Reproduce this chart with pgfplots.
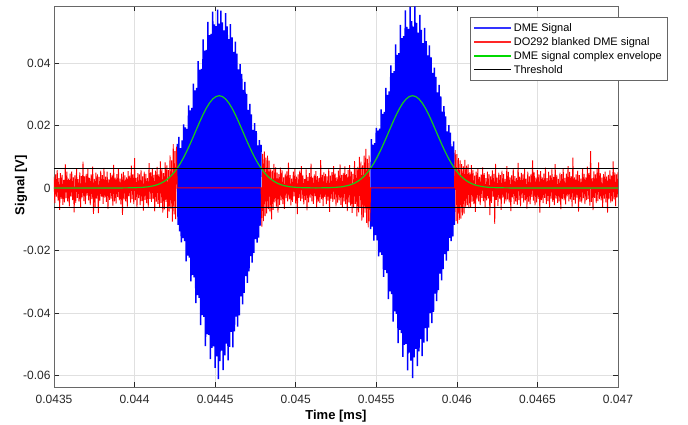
\documentclass[border=0pt]{standalone}
\usepackage{pgfplots}
\pgfplotsset{compat=1.18}
\usepackage{fontspec}
\setmainfont{Liberation Sans}
\definecolor{axgray}{rgb}{0.15,0.15,0.15}
\definecolor{mygreen}{RGB}{26,204,26}
\begin{document}
\begin{tikzpicture}
\begin{axis}[
  at={(0pt,0pt)}, anchor=south west,
  scale only axis, width=564pt, height=381pt,
  xmin=43.5, xmax=47, ymin=-63.7, ymax=58.2,
  xtick={43.5,44,44.5,45,45.5,46,46.5,47},
  xticklabels={0.0435,0.044,0.0445,0.045,0.0455,0.046,0.0465,0.047},
  ytick={-60,-40,-20,0,20,40},
  yticklabels={-0.06,-0.04,-0.02,0,0.02,0.04},
  /pgf/number format/assume math mode=true,
  grid=major, major grid style={black!12, line width=0.5pt},
  tick align=inside, tick pos=both, major tick length=5pt,
  every tick/.style={axgray, line width=0.5pt},
  axis line style={axgray!70, line width=0.6pt},
  tick label style={font=\fontsize{12}{14}\selectfont, text=axgray},
  xticklabel style={yshift=-5pt},
  xlabel={\textbf{Time [ms]}}, ylabel={\textbf{Signal [V]}},
  label style={font=\fontsize{13}{15}\selectfont, text=black},
  xlabel style={at={(axis description cs:0.5,-0.076)}, anchor=center},
  ylabel style={at={(axis description cs:-0.0585,0.53)}, anchor=center},
  legend cell align=left,
  legend style={at={(axis description cs:1.0869,0.971)}, anchor=north east,
    fill=white, font=\fontsize{11}{12}\selectfont,
    row sep=0.5pt, inner xsep=3pt, inner ysep=4pt},
  every axis legend/.append style={draw=black!60},
  legend image code/.code={\draw[#1] (0pt,0pt) -- (37pt,0pt);},
]
% DME signal (pulse 1)
\addplot[blue, line width=1.5pt, forget plot] coordinates {
(44.265,14.1)(44.270,-11.8)(44.275,16.3)(44.280,-13.9)(44.285,12.7)(44.290,-17.4)(44.295,15.2)(44.300,-16.1)(44.305,20.3)(44.310,-17.0)
(44.315,19.4)(44.320,-23.5)(44.325,18.9)(44.330,-21.7)(44.335,26.4)(44.340,-22.3)(44.345,24.8)(44.350,-29.9)(44.355,25.6)(44.360,-27.8)
(44.365,33.4)(44.370,-28.6)(44.375,31.2)(44.380,-36.9)(44.385,32.0)(44.390,-34.3)(44.395,40.6)(44.400,-35.2)(44.405,37.8)(44.410,-43.9)
(44.415,38.1)(44.420,-40.7)(44.425,47.5)(44.430,-41.3)(44.435,43.9)(44.440,-50.6)(44.445,44.2)(44.450,-46.8)(44.455,53.1)(44.460,-47.0)
(44.465,48.9)(44.470,-54.8)(44.475,49.3)(44.480,-51.2)(44.485,56.4)(44.490,-50.7)(44.495,52.3)(44.500,-57.6)(44.505,51.8)(44.510,-53.9)
(44.515,57.0)(44.520,-61.2)(44.525,52.6)(44.530,-55.4)(44.535,56.7)(44.540,-52.1)(44.545,53.0)(44.550,-58.3)(44.555,50.4)(44.560,-53.6)
(44.565,55.9)(44.570,-49.8)(44.575,51.7)(44.580,-55.2)(44.585,47.6)(44.590,-50.9)(44.595,52.4)(44.600,-46.1)(44.605,48.2)(44.610,-51.0)
(44.615,43.5)(44.620,-45.9)(44.625,46.8)(44.630,-41.2)(44.635,43.0)(44.640,-44.4)(44.645,37.9)(44.650,-40.8)(44.655,39.6)(44.660,-34.7)
(44.665,36.5)(44.670,-37.3)(44.675,31.4)(44.680,-33.6)(44.685,33.9)(44.690,-28.2)(44.695,30.1)(44.700,-30.4)(44.705,25.0)(44.710,-26.7)
(44.715,26.9)(44.720,-21.8)(44.725,23.5)(44.730,-23.9)(44.735,18.6)(44.740,-20.8)(44.745,20.7)(44.750,-16.4)(44.755,18.2)(44.760,-17.5)
(44.765,13.6)(44.770,-15.9)(44.775,15.3)(44.780,-12.1)(44.785,13.8)
};
% DME signal (pulse 2)
\addplot[blue, line width=1.5pt, forget plot] coordinates {
(45.465,-13.2)(45.470,15.6)(45.475,-12.4)(45.480,13.8)(45.485,-16.9)(45.490,14.3)(45.495,-15.1)(45.500,19.2)(45.505,-16.8)(45.510,18.3)
(45.515,-21.9)(45.520,19.0)(45.525,-20.6)(45.530,25.1)(45.535,-21.4)(45.540,23.7)(45.545,-28.5)(45.550,24.3)(45.555,-26.2)(45.560,32.0)
(45.565,-27.3)(45.570,29.8)(45.575,-35.6)(45.580,30.9)(45.585,-33.1)(45.590,39.2)(45.595,-34.0)(45.600,36.7)(45.605,-42.8)(45.610,37.4)
(45.615,-39.5)(45.620,45.9)(45.625,-40.3)(45.630,42.6)(45.635,-49.7)(45.640,43.1)(45.645,-45.4)(45.650,52.2)(45.655,-46.5)(45.660,47.9)
(45.665,-54.1)(45.670,48.6)(45.675,-50.2)(45.680,56.8)(45.685,-49.9)(45.690,51.5)(45.695,-58.4)(45.700,50.9)(45.705,-52.7)(45.710,57.9)
(45.715,-55.3)(45.720,53.4)(45.725,-60.9)(45.730,51.6)(45.735,-54.2)(45.740,58.1)(45.745,-51.5)(45.750,52.8)(45.755,-57.0)(45.760,49.7)
(45.765,-52.3)(45.770,55.4)(45.775,-48.4)(45.780,50.6)(45.785,-53.8)(45.790,46.3)(45.795,-49.5)(45.800,51.2)(45.805,-44.9)(45.810,47.0)
(45.815,-49.1)(45.820,42.4)(45.825,-44.7)(45.830,45.6)(45.835,-40.1)(45.840,41.8)(45.845,-43.3)(45.850,36.8)(45.855,-39.7)(45.860,38.5)
(45.865,-33.8)(45.870,35.5)(45.875,-36.2)(45.880,30.6)(45.885,-32.7)(45.890,33.0)(45.895,-27.4)(45.900,29.3)(45.905,-29.6)(45.910,24.4)
(45.915,-26.0)(45.920,26.2)(45.925,-21.2)(45.930,22.9)(45.935,-23.3)(45.940,18.1)(45.945,-20.2)(45.950,20.1)(45.955,-16.0)(45.960,17.7)
(45.965,-17.0)(45.970,13.3)(45.975,-15.5)(45.980,14.9)(45.985,-11.8)
};
% DO292 blanked signal
\addplot[red, line width=0.9pt, forget plot] coordinates {
(43.500,3.6)(43.505,-4.9)(43.510,4.3)(43.515,-2.8)(43.520,5.7)(43.525,-4.1)(43.530,3.1)(43.535,-7.0)(43.540,4.7)(43.545,-3.5)
(43.550,4.2)(43.555,-5.4)(43.560,2.6)(43.565,-4.6)(43.570,7.6)(43.575,-3.3)(43.580,5.2)(43.585,-4.3)(43.590,3.0)(43.595,-5.9)
(43.600,4.6)(43.605,-2.7)(43.610,5.3)(43.615,-3.9)(43.620,3.4)(43.625,-7.8)(43.630,4.0)(43.635,-4.8)(43.640,6.3)(43.645,-3.2)
(43.650,2.8)(43.655,-4.4)(43.660,5.0)(43.665,-6.1)(43.670,3.8)(43.675,-3.0)(43.680,8.4)(43.685,-4.2)(43.690,3.7)(43.695,-5.2)
(43.700,4.5)(43.705,-2.5)(43.710,6.0)(43.715,-4.0)(43.720,3.2)(43.725,-5.5)(43.730,4.3)(43.735,-3.6)(43.740,6.8)(43.745,-8.3)
(43.750,2.9)(43.755,-6.2)(43.760,4.9)(43.765,-3.4)(43.770,4.3)(43.775,-8.1)(43.780,3.5)(43.785,-4.1)(43.790,5.5)(43.795,-2.8)
(43.800,4.1)(43.805,-5.1)(43.810,6.4)(43.815,-3.1)(43.820,3.6)(43.825,-4.5)(43.830,5.2)(43.835,-6.7)(43.840,2.7)(43.845,-3.8)
(43.850,4.8)(43.855,-3.4)(43.860,4.2)(43.865,-5.7)(43.870,7.4)(43.875,-4.3)(43.880,3.3)(43.885,-5.0)(43.890,4.4)(43.895,-2.9)
(43.900,6.1)(43.905,-4.0)(43.910,3.0)(43.915,-5.3)(43.920,4.6)(43.925,-8.6)(43.930,5.1)(43.935,-3.7)(43.940,4.0)(43.945,-4.3)
(43.950,3.4)(43.955,-6.0)(43.960,5.4)(43.965,-2.6)(43.970,3.9)(43.975,-4.7)(43.980,7.1)(43.985,-3.6)(43.990,4.3)(43.995,-5.2)
(44.000,9.5)(44.005,-3.9)(44.010,3.2)(44.015,-6.3)(44.020,4.7)(44.025,-3.3)(44.030,4.3)(44.035,-5.5)(44.040,5.8)(44.045,-4.2)
(44.050,3.7)(44.055,-7.3)(44.060,5.2)(44.065,-3.8)(44.070,4.5)(44.075,-4.9)(44.080,3.1)(44.085,-6.1)(44.090,7.9)(44.095,-3.5)
(44.100,5.0)(44.105,-4.5)(44.110,6.2)(44.115,-3.4)(44.120,4.2)(44.125,-7.5)(44.130,5.5)(44.135,-4.4)(44.140,6.7)(44.145,-5.1)
(44.150,4.3)(44.155,-6.4)(44.160,8.5)(44.165,-4.8)(44.170,6.1)(44.175,-7.9)(44.180,4.7)(44.185,-6.9)(44.190,8.2)(44.195,-4.5)
(44.200,7.2)(44.205,-9.6)(44.210,5.7)(44.215,-7.6)(44.220,10.4)(44.225,-6.6)(44.230,8.8)(44.235,-10.8)(44.240,14.0)(44.245,-8.5)
(44.250,11.8)(44.255,-10.0)(44.260,13.2)
(44.265,0)(44.785,0)
(44.790,-12.4)(44.795,10.9)(44.800,-10.6)(44.805,11.7)(44.810,-9.0)(44.815,9.7)(44.820,-8.2)(44.825,10.3)(44.830,-6.8)(44.835,8.7)
(44.840,-7.5)(44.845,6.3)(44.850,-10.1)(44.855,5.5)(44.860,-7.0)(44.865,7.7)(44.870,-4.6)(44.875,6.6)(44.880,-6.0)(44.885,4.9)
(44.890,-7.9)(44.895,4.4)(44.900,-5.4)(44.905,6.5)(44.910,-4.0)(44.915,5.7)(44.920,-5.2)(44.925,3.4)(44.930,-6.7)(44.935,4.6)
(44.940,-3.3)(44.945,5.3)(44.950,-4.3)(44.955,8.1)(44.960,-3.7)(44.965,4.1)(44.970,-5.6)(44.975,3.0)(44.980,-4.5)(44.985,5.2)
(44.990,-2.7)(44.995,6.1)(45.000,-5.0)(45.005,3.6)(45.010,-8.4)(45.015,4.3)(45.020,-3.2)(45.025,5.5)(45.030,-4.2)(45.035,7.0)
(45.040,-3.4)(45.045,4.0)(45.050,-5.3)(45.055,2.8)(45.060,-3.9)(45.065,5.9)(45.070,-7.2)(45.075,3.5)(45.080,-4.6)(45.085,4.7)
(45.090,-3.1)(45.095,7.8)(45.100,-4.3)(45.105,3.3)(45.110,-5.1)(45.115,4.3)(45.120,-2.6)(45.125,5.4)(45.130,-6.4)(45.135,3.8)
(45.140,-4.4)(45.145,3.2)(45.150,-4.8)(45.155,8.9)(45.160,-3.6)(45.165,4.2)(45.170,-5.8)(45.175,5.0)(45.180,-2.9)(45.185,4.5)
(45.190,-5.2)(45.195,3.7)(45.200,-4.1)(45.205,6.2)(45.210,-7.7)(45.215,3.9)(45.220,-3.4)(45.225,5.1)(45.230,-4.5)(45.235,7.0)
(45.240,-3.7)(45.245,4.6)(45.250,-5.9)(45.255,3.4)(45.260,-4.7)(45.265,5.5)(45.270,-4.0)(45.275,7.5)(45.280,-5.4)(45.285,4.2)
(45.290,-6.1)(45.295,4.8)(45.300,-4.3)(45.305,6.9)(45.310,-5.2)(45.315,4.4)(45.320,-7.4)(45.325,5.8)(45.330,-4.6)(45.335,7.3)
(45.340,-5.7)(45.345,5.2)(45.350,-8.0)(45.355,4.5)(45.360,-6.5)(45.365,8.6)(45.370,-5.1)(45.375,6.1)(45.380,-9.1)(45.385,6.7)
(45.390,-7.8)(45.395,9.9)(45.400,-6.2)(45.405,8.4)(45.410,-10.5)(45.415,7.2)(45.420,-9.4)(45.425,10.3)(45.430,-7.9)(45.435,12.5)
(45.440,-11.2)(45.445,9.3)(45.450,-12.6)(45.455,10.4)(45.460,-10.7)
(45.465,0)(45.985,0)
(45.990,12.1)(45.995,-10.6)(46.000,10.8)(46.005,-11.4)(46.010,9.5)(46.015,-10.2)(46.020,8.8)(46.025,-9.8)(46.030,7.6)(46.035,-8.8)
(46.040,6.9)(46.045,-8.2)(46.050,9.0)(46.055,-6.1)(46.060,7.1)(46.065,-5.5)(46.070,7.5)(46.075,-6.5)(46.080,5.0)(46.085,-6.3)
(46.090,7.3)(46.095,-4.4)(46.100,5.8)(46.105,-5.2)(46.110,3.9)(46.115,-7.7)(46.120,5.2)(46.125,-3.7)(46.130,6.0)(46.135,-4.3)
(46.140,3.5)(46.145,-5.5)(46.150,4.3)(46.155,-3.2)(46.160,6.6)(46.165,-4.2)(46.170,4.7)(46.175,-6.1)(46.180,3.1)(46.185,-4.0)
(46.190,5.2)(46.195,-3.4)(46.200,4.3)(46.205,-8.7)(46.210,3.7)(46.215,-4.8)(46.220,5.6)(46.225,-2.8)(46.230,4.5)(46.235,-11.5)
(46.240,7.7)(46.245,-3.8)(46.250,3.3)(46.255,-5.8)(46.260,4.9)(46.265,-3.4)(46.270,4.1)(46.275,-7.0)(46.280,5.5)(46.285,-3.1)
(46.290,4.4)(46.295,-5.0)(46.300,2.9)(46.305,-4.3)(46.310,7.0)(46.315,-3.7)(46.320,5.1)(46.325,-4.6)(46.330,3.4)(46.335,-7.4)
(46.340,4.0)(46.345,-3.0)(46.350,6.2)(46.355,-5.1)(46.360,3.8)(46.365,-4.3)(46.370,3.2)(46.375,-5.4)(46.380,8.0)(46.385,-3.9)
(46.390,3.6)(46.395,-5.9)(46.400,4.8)(46.405,-3.3)(46.410,4.3)(46.415,-4.7)(46.420,6.0)(46.425,-4.0)(46.430,3.0)(46.435,-6.6)
(46.440,5.2)(46.445,-4.4)(46.450,3.7)(46.455,-5.2)(46.460,4.5)(46.465,-2.9)(46.470,8.8)(46.475,-4.1)(46.480,5.0)(46.485,-5.6)
(46.490,3.3)(46.495,-4.6)(46.500,5.7)(46.505,-3.5)(46.510,4.3)(46.515,-7.9)(46.520,5.4)(46.525,-3.9)(46.530,3.4)(46.535,-4.9)
(46.540,4.6)(46.545,-3.2)(46.550,6.5)(46.555,-5.2)(46.560,3.1)(46.565,-4.2)(46.570,5.2)(46.575,-6.2)(46.580,4.0)(46.585,-3.4)
(46.590,5.9)(46.595,-4.5)(46.600,3.5)(46.605,-5.5)(46.610,7.6)(46.615,-3.4)(46.620,4.2)(46.625,-4.8)(46.630,2.9)(46.635,-4.3)
(46.640,4.9)(46.645,-6.8)(46.650,4.4)(46.655,-3.6)(46.660,6.1)(46.665,-4.0)(46.670,3.2)(46.675,-5.3)(46.680,4.6)(46.685,-2.7)
(46.690,7.0)(46.695,-4.3)(46.700,5.1)(46.705,-3.7)(46.710,3.8)(46.715,-6.0)(46.720,9.7)(46.725,-3.8)(46.730,3.4)(46.735,-5.0)
(46.740,4.3)(46.745,-3.1)(46.750,5.5)(46.755,-7.6)(46.760,4.1)(46.765,-4.4)(46.770,3.0)(46.775,-4.7)(46.780,6.3)(46.785,-3.3)
(46.790,4.5)(46.795,-5.2)(46.800,3.4)(46.805,-3.9)(46.810,6.8)(46.815,-3.5)(46.820,4.8)(46.825,-5.7)(46.830,11.8)(46.835,-4.5)
(46.840,3.1)(46.845,-7.1)(46.850,5.3)(46.855,-3.2)(46.860,4.3)(46.865,-4.9)(46.870,6.1)(46.875,-4.2)(46.880,8.2)(46.885,-3.6)
(46.890,4.7)(46.895,-4.0)(46.900,3.3)(46.905,-6.1)(46.910,4.4)(46.915,-3.4)(46.920,5.2)(46.925,-4.6)(46.930,3.7)(46.935,-7.9)
(46.940,4.2)(46.945,-3.4)(46.950,5.6)(46.955,-4.7)(46.960,3.9)(46.965,-4.3)(46.970,8.5)(46.975,-3.7)(46.980,5.0)(46.985,-5.8)
(46.990,4.3)(46.995,-3.0)(47.000,5.1)
};
% complex envelope
\addplot[mygreen, line width=1.2pt, forget plot] coordinates {
(43.500,0)(43.925,0)(43.965,0.02)(44.005,0.06)(44.045,0.15)(44.085,0.35)(44.125,0.76)(44.145,1.09)(44.165,1.53)(44.185,2.11)
(44.205,2.85)(44.225,3.78)(44.245,4.93)(44.265,6.30)(44.285,7.92)(44.305,9.77)(44.325,11.84)(44.345,14.08)(44.365,16.44)(44.385,18.86)
(44.405,21.23)(44.425,23.48)(44.445,25.49)(44.465,27.17)(44.485,28.44)(44.505,29.23)(44.525,29.50)(44.545,29.23)(44.565,28.44)(44.585,27.17)
(44.605,25.49)(44.625,23.48)(44.645,21.23)(44.665,18.86)(44.685,16.44)(44.705,14.08)(44.725,11.84)(44.745,9.77)(44.765,7.92)(44.785,6.30)
(44.805,4.93)(44.825,3.78)(44.845,2.85)(44.865,2.11)(44.885,1.53)(44.905,1.09)(44.925,0.76)(44.965,0.35)(45.005,0.15)(45.045,0.06)
(45.085,0.02)(45.125,0)(45.165,0.02)(45.205,0.06)(45.245,0.15)(45.285,0.35)(45.325,0.76)(45.345,1.09)(45.365,1.53)(45.385,2.11)
(45.405,2.85)(45.425,3.78)(45.445,4.93)(45.465,6.30)(45.485,7.92)(45.505,9.77)(45.525,11.84)(45.545,14.08)(45.565,16.44)(45.585,18.86)
(45.605,21.23)(45.625,23.48)(45.645,25.49)(45.665,27.17)(45.685,28.44)(45.705,29.23)(45.725,29.50)(45.745,29.23)(45.765,28.44)(45.785,27.17)
(45.805,25.49)(45.825,23.48)(45.845,21.23)(45.865,18.86)(45.885,16.44)(45.905,14.08)(45.925,11.84)(45.945,9.77)(45.965,7.92)(45.985,6.30)
(46.005,4.93)(46.025,3.78)(46.045,2.85)(46.065,2.11)(46.085,1.53)(46.105,1.09)(46.125,0.76)(46.165,0.35)(46.205,0.15)(46.245,0.06)
(46.285,0.02)(46.325,0)(47.000,0)
};
% thresholds
\addplot[black, line width=0.9pt, forget plot] coordinates {(43.5,6.1)(47,6.1)};
\addplot[black, line width=0.9pt, forget plot] coordinates {(43.5,-6.1)(47,-6.1)};
% legend
\addlegendimage{blue!80, line width=1.2pt}
\addlegendentry{DME Signal}
\addlegendimage{red!85, line width=1.2pt}
\addlegendentry{DO292 blanked DME signal}
\addlegendimage{green!85!black, line width=1.2pt}
\addlegendentry{DME signal complex envelope}
\addlegendimage{black, line width=1pt}
\addlegendentry{Threshold}
\end{axis}
\pgfresetboundingbox
\path[use as bounding box] (-54pt,-38pt) rectangle (634pt,387pt);
\end{tikzpicture}
\end{document}
